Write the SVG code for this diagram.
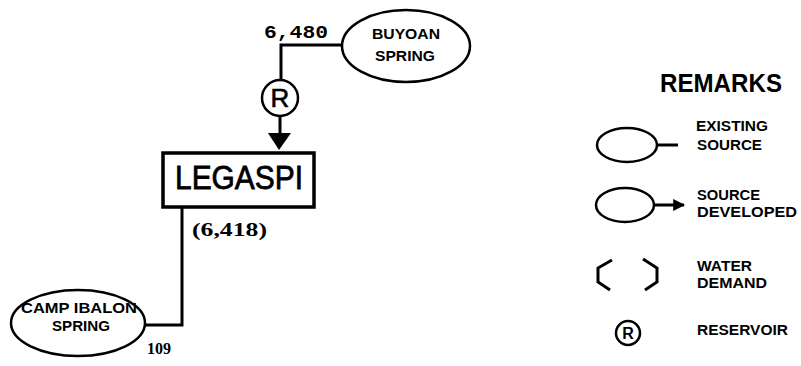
<svg xmlns="http://www.w3.org/2000/svg" width="801" height="366" viewBox="0 0 801 366">
<defs>
<style>
.ln{fill:none;stroke:#000;stroke-width:3}
.el{fill:#fff;stroke:#000;stroke-width:2.5}
.nd{font-family:"Liberation Sans",Arial,sans-serif;font-weight:bold;font-size:15px;fill:#000}
.sm{font-family:"Liberation Sans",Arial,sans-serif;font-weight:bold;font-size:14px;fill:#000}
.num{font-family:"Liberation Serif","Times New Roman",serif;font-weight:bold;fill:#000}
</style>
<marker id="ah" viewBox="0 0 10 10" refX="9" refY="5" markerWidth="4" markerHeight="4" orient="auto">
<path d="M0,0 L10,5 L0,10 z" fill="#000"/>
</marker>
</defs>
<rect width="801" height="366" fill="#fff"/>
<g id="connectors">
<path class="ln" d="M342,45 H281 V80"/>
<path class="ln" d="M280,116 V134"/>
<path d="M268,133 L291,133 L279,150 z" fill="#000"/>
<path class="ln" d="M182,208 V325 H145"/>
</g>
<g id="buyoan">
<ellipse class="el" cx="406" cy="46" rx="64" ry="36"/>
<text class="nd" x="406" y="39" text-anchor="middle" textLength="68" lengthAdjust="spacingAndGlyphs">BUYOAN</text>
<text class="nd" x="405" y="61" text-anchor="middle" textLength="60" lengthAdjust="spacingAndGlyphs">SPRING</text>
</g>
<text x="264" y="38" font-family="Liberation Mono,monospace" font-weight="bold" font-size="18" fill="#000" textLength="64" lengthAdjust="spacingAndGlyphs">6,480</text>
<g id="reservoir">
<circle cx="280" cy="98" r="18" fill="#fff" stroke="#000" stroke-width="2.5"/>
<text x="280" y="107" text-anchor="middle" font-family="Liberation Sans,sans-serif" font-size="26" fill="#000" stroke="#000" stroke-width="0.6">R</text>
</g>
<g id="legaspi">
<rect x="163" y="153" width="151" height="54" fill="#fff" stroke="#000" stroke-width="3.5"/>
<text x="239" y="189" text-anchor="middle" font-family="Liberation Sans,Arial,sans-serif" font-size="34" fill="#000" stroke="#000" stroke-width="0.8" textLength="128" lengthAdjust="spacingAndGlyphs">LEGASPI</text>
</g>
<text class="num" x="192" y="236" font-size="19" textLength="75" lengthAdjust="spacingAndGlyphs">(6,418)</text>
<g id="campibalon">
<ellipse class="el" cx="78" cy="323" rx="67" ry="33"/>
<text class="nd" x="79" y="313" text-anchor="middle" textLength="116" lengthAdjust="spacingAndGlyphs">CAMP IBALON</text>
<text class="nd" x="81" y="331" text-anchor="middle" textLength="58" lengthAdjust="spacingAndGlyphs">SPRING</text>
</g>
<text class="num" x="147" y="354" font-size="16">109</text>
<g id="legend">
<text x="660" y="92" font-family="Liberation Sans,Arial,sans-serif" font-weight="bold" font-size="25" fill="#000" textLength="122" lengthAdjust="spacingAndGlyphs">REMARKS</text>
<ellipse class="el" cx="627" cy="145" rx="30" ry="17"/>
<path class="ln" d="M657,145 H678" stroke-width="2.5"/>
<text class="sm" x="696" y="131" textLength="72" lengthAdjust="spacingAndGlyphs">EXISTING</text>
<text class="sm" x="697" y="150" textLength="65" lengthAdjust="spacingAndGlyphs">SOURCE</text>
<ellipse class="el" cx="625" cy="205" rx="29" ry="17"/>
<path class="ln" d="M654,205 H684" stroke-width="2.5" marker-end="url(#ah)"/>
<text class="sm" x="697" y="200" textLength="63" lengthAdjust="spacingAndGlyphs">SOURCE</text>
<text class="sm" x="697" y="217" textLength="100" lengthAdjust="spacingAndGlyphs">DEVELOPED</text>
<path class="ln" d="M612,260 L598,268 V282 L610,290" stroke-width="2.5"/>
<path class="ln" d="M643,259 L657,268 V282 L645,290" stroke-width="2.5"/>
<text class="sm" x="697" y="271" textLength="55" lengthAdjust="spacingAndGlyphs">WATER</text>
<text class="sm" x="697" y="288" textLength="70" lengthAdjust="spacingAndGlyphs">DEMAND</text>
<circle cx="628" cy="333" r="12" fill="#fff" stroke="#000" stroke-width="2.5"/>
<text x="628" y="339" text-anchor="middle" font-family="Liberation Sans,sans-serif" font-weight="bold" font-size="16" fill="#000">R</text>
<text class="sm" x="697" y="335" textLength="91" lengthAdjust="spacingAndGlyphs">RESERVOIR</text>
</g>
</svg>
